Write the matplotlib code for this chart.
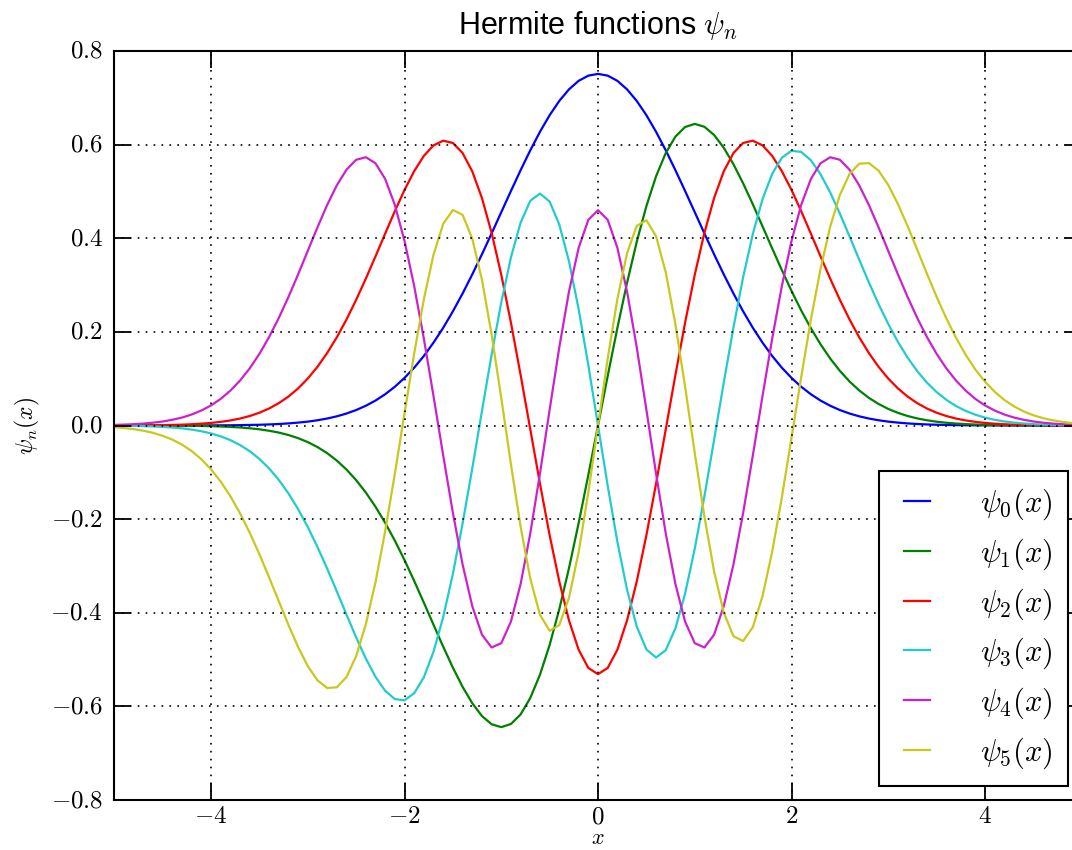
import numpy as np
import matplotlib
matplotlib.use('Agg')
import matplotlib.pyplot as plt
from matplotlib.ticker import FuncFormatter, MultipleLocator

plt.style.use('classic')
plt.rcParams['mathtext.fontset'] = 'cm'
plt.rcParams['font.family'] = ['Liberation Sans', 'DejaVu Sans']

# sample grid, x = -5.0 ... 5.0 in steps of 0.1
x = np.arange(-50, 51) / 10

psi0 = [0.0000, 0.0000, 0.0000, 0.0000, 0.0000, 0.0000, 0.0000, 0.0001, 0.0001, 0.0002,
        0.0003, 0.0004, 0.0005, 0.0008, 0.0012, 0.0016, 0.0023, 0.0032, 0.0045, 0.0062,
        0.0083, 0.0112, 0.0149, 0.0196, 0.0256, 0.0330, 0.0422, 0.0533, 0.0668, 0.0828,
        0.1017, 0.1235, 0.1486, 0.1771, 0.2088, 0.2439, 0.2819, 0.3227, 0.3656, 0.4102,
        0.4556, 0.5010, 0.5454, 0.5879, 0.6274, 0.6629, 0.6934, 0.7181, 0.7363, 0.7474,
        0.7511, 0.7474, 0.7363, 0.7181, 0.6934, 0.6629, 0.6274, 0.5879, 0.5454, 0.5010,
        0.4556, 0.4102, 0.3656, 0.3227, 0.2819, 0.2439, 0.2088, 0.1771, 0.1486, 0.1235,
        0.1017, 0.0828, 0.0668, 0.0533, 0.0422, 0.0330, 0.0256, 0.0196, 0.0149, 0.0112,
        0.0083, 0.0062, 0.0045, 0.0032, 0.0023, 0.0016, 0.0012, 0.0008, 0.0005, 0.0004,
        0.0003, 0.0002, 0.0001, 0.0001, 0.0000, 0.0000, 0.0000, 0.0000, 0.0000, 0.0000,
        0.0000]

psi1 = [0.0000, 0.0000, -0.0001, -0.0001, -0.0001, -0.0002, -0.0003, -0.0004, -0.0007, -0.0010,
        -0.0014, -0.0021, -0.0030, -0.0042, -0.0059, -0.0081, -0.0112, -0.0151, -0.0203, -0.0270,
        -0.0354, -0.0460, -0.0590, -0.0749, -0.0940, -0.1167, -0.1431, -0.1735, -0.2078, -0.2459,
        -0.2875, -0.3320, -0.3784, -0.4257, -0.4726, -0.5173, -0.5581, -0.5932, -0.6205, -0.6381,
        -0.6443, -0.6376, -0.6171, -0.5820, -0.5324, -0.4687, -0.3922, -0.3047, -0.2082, -0.1057,
        0.0000, 0.1057, 0.2082, 0.3047, 0.3922, 0.4687, 0.5324, 0.5820, 0.6171, 0.6376,
        0.6443, 0.6381, 0.6205, 0.5932, 0.5581, 0.5173, 0.4726, 0.4257, 0.3784, 0.3320,
        0.2875, 0.2459, 0.2078, 0.1735, 0.1431, 0.1167, 0.0940, 0.0749, 0.0590, 0.0460,
        0.0354, 0.0270, 0.0203, 0.0151, 0.0112, 0.0081, 0.0059, 0.0042, 0.0030, 0.0021,
        0.0014, 0.0010, 0.0007, 0.0004, 0.0003, 0.0002, 0.0001, 0.0001, 0.0001, 0.0000,
        0.0000]

psi2 = [0.0001, 0.0002, 0.0002, 0.0004, 0.0006, 0.0008, 0.0013, 0.0018, 0.0027, 0.0039,
        0.0055, 0.0078, 0.0108, 0.0149, 0.0203, 0.0273, 0.0363, 0.0477, 0.0618, 0.0792,
        0.1003, 0.1254, 0.1547, 0.1884, 0.2264, 0.2684, 0.3137, 0.3613, 0.4099, 0.4579,
        0.5032, 0.5434, 0.5760, 0.5985, 0.6084, 0.6035, 0.5821, 0.5430, 0.4860, 0.4118,
        0.3221, 0.2196, 0.1080, -0.0083, -0.1242, -0.2344, -0.3334, -0.4164, -0.4790, -0.5179,
        -0.5311, -0.5179, -0.4790, -0.4164, -0.3334, -0.2344, -0.1242, -0.0083, 0.1080, 0.2196,
        0.3221, 0.4118, 0.4860, 0.5430, 0.5821, 0.6035, 0.6084, 0.5985, 0.5760, 0.5434,
        0.5032, 0.4579, 0.4099, 0.3613, 0.3137, 0.2684, 0.2264, 0.1884, 0.1547, 0.1254,
        0.1003, 0.0792, 0.0618, 0.0477, 0.0363, 0.0273, 0.0203, 0.0149, 0.0108, 0.0078,
        0.0055, 0.0039, 0.0027, 0.0018, 0.0013, 0.0008, 0.0006, 0.0004, 0.0002, 0.0002,
        0.0001]

psi3 = [-0.0004, -0.0006, -0.0009, -0.0013, -0.0020, -0.0029, -0.0043, -0.0061, -0.0087, -0.0122,
        -0.0169, -0.0231, -0.0312, -0.0417, -0.0549, -0.0714, -0.0916, -0.1160, -0.1450, -0.1786,
        -0.2168, -0.2593, -0.3055, -0.3542, -0.4039, -0.4525, -0.4978, -0.5368, -0.5667, -0.5844,
        -0.5869, -0.5719, -0.5376, -0.4832, -0.4090, -0.3168, -0.2096, -0.0920, 0.0304, 0.1511,
        0.2630, 0.3592, 0.4333, 0.4800, 0.4955, 0.4784, 0.4291, 0.3507, 0.2482, 0.1286,
        0.0000, -0.1286, -0.2482, -0.3507, -0.4291, -0.4784, -0.4955, -0.4800, -0.4333, -0.3592,
        -0.2630, -0.1511, -0.0304, 0.0920, 0.2096, 0.3168, 0.4090, 0.4832, 0.5376, 0.5719,
        0.5869, 0.5844, 0.5667, 0.5368, 0.4978, 0.4525, 0.4039, 0.3542, 0.3055, 0.2593,
        0.2168, 0.1786, 0.1450, 0.1160, 0.0916, 0.0714, 0.0549, 0.0417, 0.0312, 0.0231,
        0.0169, 0.0122, 0.0087, 0.0061, 0.0043, 0.0029, 0.0020, 0.0013, 0.0009, 0.0006,
        0.0004]

psi4 = [0.0013, 0.0019, 0.0028, 0.0041, 0.0060, 0.0086, 0.0122, 0.0170, 0.0235, 0.0320,
        0.0429, 0.0569, 0.0745, 0.0961, 0.1221, 0.1530, 0.1889, 0.2295, 0.2745, 0.3228,
        0.3730, 0.4232, 0.4709, 0.5130, 0.5464, 0.5676, 0.5731, 0.5602, 0.5266, 0.4712,
        0.3942, 0.2978, 0.1854, 0.0625, -0.0642, -0.1867, -0.2966, -0.3857, -0.4467, -0.4742,
        -0.4650, -0.4188, -0.3386, -0.2304, -0.1027, 0.0338, 0.1674, 0.2862, 0.3797, 0.4394,
        0.4600, 0.4394, 0.3797, 0.2862, 0.1674, 0.0338, -0.1027, -0.2304, -0.3386, -0.4188,
        -0.4650, -0.4742, -0.4467, -0.3857, -0.2966, -0.1867, -0.0642, 0.0625, 0.1854, 0.2978,
        0.3942, 0.4712, 0.5266, 0.5602, 0.5731, 0.5676, 0.5464, 0.5130, 0.4709, 0.4232,
        0.3730, 0.3228, 0.2745, 0.2295, 0.1889, 0.1530, 0.1221, 0.0961, 0.0745, 0.0569,
        0.0429, 0.0320, 0.0235, 0.0170, 0.0122, 0.0086, 0.0060, 0.0041, 0.0028, 0.0019,
        0.0013]

psi5 = [-0.0036, -0.0053, -0.0078, -0.0111, -0.0157, -0.0219, -0.0301, -0.0408, -0.0546, -0.0720,
        -0.0936, -0.1198, -0.1511, -0.1875, -0.2290, -0.2749, -0.3242, -0.3752, -0.4258, -0.4731,
        -0.5138, -0.5443, -0.5606, -0.5593, -0.5373, -0.4926, -0.4247, -0.3347, -0.2258, -0.1031,
        0.0262, 0.1537, 0.2698, 0.3650, 0.4308, 0.4604, 0.4501, 0.3994, 0.3118, 0.1948,
        0.0588, -0.0829, -0.2162, -0.3273, -0.4043, -0.4386, -0.4262, -0.3680, -0.2701, -0.1428,
        0.0000, 0.1428, 0.2701, 0.3680, 0.4262, 0.4386, 0.4043, 0.3273, 0.2162, 0.0829,
        -0.0588, -0.1948, -0.3118, -0.3994, -0.4501, -0.4604, -0.4308, -0.3650, -0.2698, -0.1537,
        -0.0262, 0.1031, 0.2258, 0.3347, 0.4247, 0.4926, 0.5373, 0.5593, 0.5606, 0.5443,
        0.5138, 0.4731, 0.4258, 0.3752, 0.3242, 0.2749, 0.2290, 0.1875, 0.1511, 0.1198,
        0.0936, 0.0720, 0.0546, 0.0408, 0.0301, 0.0219, 0.0157, 0.0111, 0.0078, 0.0053,
        0.0036]

series = [psi0, psi1, psi2, psi3, psi4, psi5]
labels = [r'$\psi_0(x)$', r'$\psi_1(x)$', r'$\psi_2(x)$',
          r'$\psi_3(x)$', r'$\psi_4(x)$', r'$\psi_5(x)$']
colors = ['#0000ff', '#008000', '#ff0000', '#22cccc', '#cc22cc', '#c8c81e']

fig = plt.figure(figsize=(10.72, 8.5), dpi=100, facecolor='white')
# the right spine sits just outside the picture, as in the reference
ax = fig.add_axes([0.1066, 0.0588, 0.9025, 0.8812])

for ys, lab, c in zip(series, labels, colors):
    ax.plot(x, ys, color=c, lw=1.6, label=lab)

ax.set_xlim(-5, 5)
ax.set_ylim(-0.8, 0.8)
ax.xaxis.set_major_locator(MultipleLocator(2))
ax.yaxis.set_major_locator(MultipleLocator(0.2))
ax.xaxis.set_major_formatter(FuncFormatter(lambda v, p: r'$%d$' % round(v)))
ax.yaxis.set_major_formatter(FuncFormatter(lambda v, p: r'$%.1f$' % (round(v, 1) + 0.0)))

ax.tick_params(direction='in', length=12, width=1.3, labelsize=18,
               top=True, right=True)
ax.tick_params(axis='x', pad=3)
ax.tick_params(axis='y', pad=8)
for s in ax.spines.values():
    s.set_linewidth(1.5)
ax.grid(True, color='k', linestyle=(0, (1.2, 4.5)), linewidth=1.2)

ax.set_xlabel(r'$x$', fontsize=16, labelpad=0)
ax.set_ylabel(r'$\psi_n(x)$', fontsize=17, labelpad=6)
ax.set_title(r'Hermite functions $\psi_n$', fontsize=22, pad=12)

leg = ax.legend(loc='lower right', fontsize=22, fancybox=False, borderaxespad=0.45,
                labelspacing=0.47, handlelength=1.45, handletextpad=1.35,
                borderpad=0.5)
leg.get_frame().set_edgecolor('k')
leg.get_frame().set_linewidth(1.5)

fig.savefig('out.png', dpi=100, facecolor='white')
